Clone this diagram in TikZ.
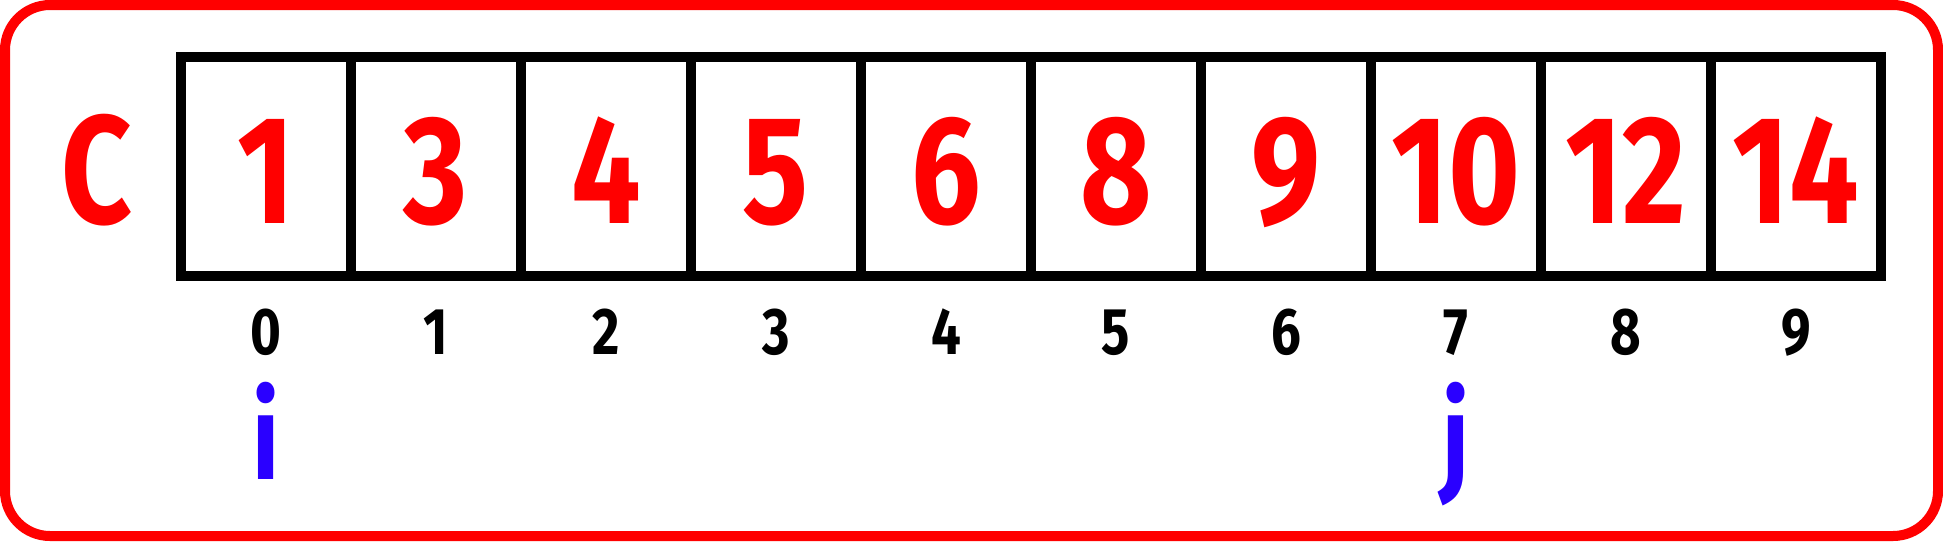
\documentclass[tikz,border=0pt]{standalone}
\usepackage{fontspec}
\newfontfamily\dinfont{Fira Sans}[FakeStretch=0.8]
\definecolor{arrred}{RGB}{255,0,0}
\definecolor{ptrblue}{RGB}{42,0,255}
\begin{document}
\begin{tikzpicture}[x=0.5pt,y=-0.5pt,
  cell/.style={draw=black,line width=5pt,minimum width=85pt,minimum height=109.5pt,
    inner sep=0pt,text height=56.5pt,text depth=0pt,text=arrred,
    font=\dinfont\bfseries\fontsize{77}{77}\selectfont},
  lab/.style={inner sep=0pt,text=arrred,font=\dinfont\bfseries\fontsize{77}{77}\selectfont},
  idx/.style={inner sep=0pt,text=black,font=\dinfont\bfseries\fontsize{33}{33}\selectfont},
  ptr/.style={inner sep=0pt,text=ptrblue,font=\dinfont\bfseries\fontsize{60}{60}\selectfont}]
\useasboundingbox (0,0) rectangle (1943,541);
\draw[arrred,line width=5pt,rounded corners=22.5pt] (5,5) rectangle (1938,536);
\node[lab,anchor=base] (clab) at (97,223) {C};
\foreach \v [count=\k from 0] in {1,3,4,5,6,8,9,10,12,14}{
  \node[cell] (c\k) at ({266+170*\k},166.5) {\v};
  \node[idx,anchor=base] (n\k) at ({266+170*\k},354) {\k};
}
\node[ptr,anchor=base] (pi) at (266,479) {i};
\node[ptr,anchor=base] (pj) at (1456,479) {j};
\end{tikzpicture}
\end{document}
